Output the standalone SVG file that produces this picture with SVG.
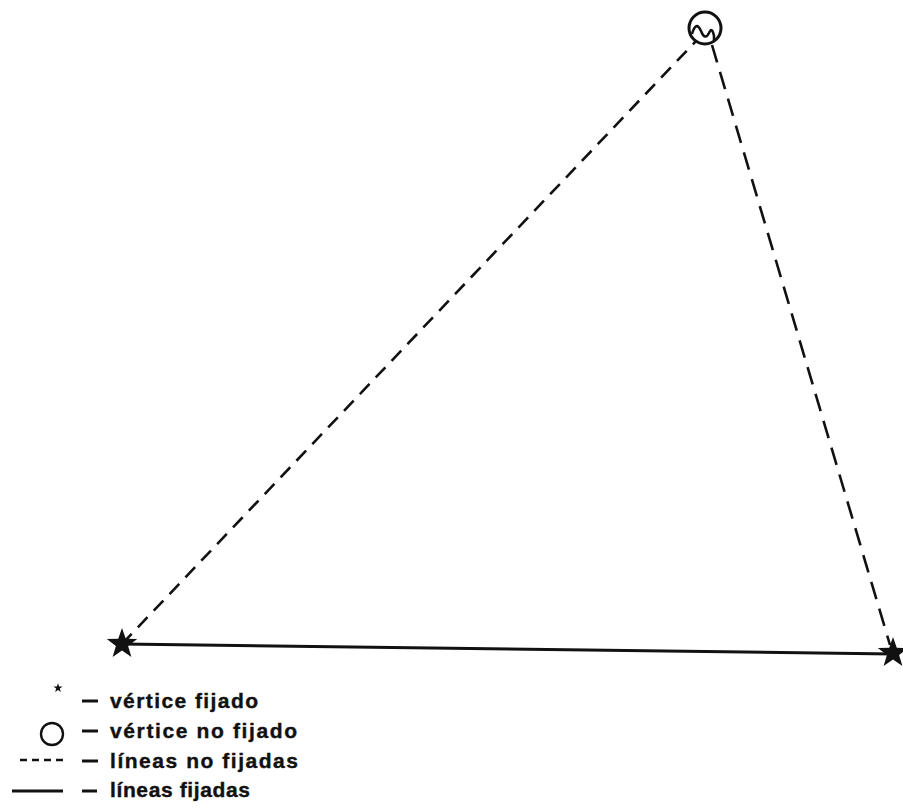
<svg xmlns="http://www.w3.org/2000/svg" width="903" height="812" viewBox="0 0 903 812">
<style>
.dash1{stroke:#111;stroke-width:2.6;stroke-dasharray:14 9;fill:none}
.dash2{stroke:#111;stroke-width:2.6;stroke-dasharray:18 10;fill:none}
.solid{stroke:#111;stroke-width:3;fill:none}
.lbl{font-family:"Liberation Sans",Arial,sans-serif;font-weight:bold;font-size:21px;fill:#111;stroke:#111;stroke-width:0.4}
.star{fill:#111}
.ring{fill:none;stroke:#111;stroke-width:3}
</style>
<defs>
<polygon id="st" points="0,-16 3.76,-5.18 15.22,-4.94 6.09,1.98 9.4,12.94 0,6.4 -9.4,12.94 -6.09,1.98 -15.22,-4.94 -3.76,-5.18"/>
</defs>
<rect width="903" height="812" fill="#fff"/>
<g id="connectors">
<line class="dash1" x1="122" y1="644" x2="696" y2="41"/>
<line class="dash2" x1="712" y1="45" x2="890" y2="645"/>
<line class="solid" x1="122" y1="644" x2="893" y2="654"/>
</g>
<g id="node-top">
<circle class="ring" cx="705" cy="28" r="16"/>
<path d="M692,34 Q696,20 701,31 Q705,41 709,33 Q712,26 714,36 L714,40" fill="none" stroke="#111" stroke-width="2.6"/>
</g>
<g id="node-left">
<use href="#st" class="star" x="122" y="644"/>
</g>
<g id="node-right">
<use href="#st" class="star" x="893" y="653"/>
</g>
<g id="legend">
<use href="#st" class="star" transform="translate(58,688) scale(0.3)"/>
<line class="solid" x1="82" y1="701" x2="98" y2="701"/>
<text class="lbl" x="110" y="708" textLength="148" lengthAdjust="spacing">vértice fijado</text>
<circle cx="52" cy="734" r="11" fill="none" stroke="#111" stroke-width="2.4"/>
<line class="solid" x1="82" y1="731" x2="98" y2="731"/>
<text class="lbl" x="110" y="738" textLength="187" lengthAdjust="spacing">vértice no fijado</text>
<line x1="20" y1="760" x2="64" y2="760" stroke="#111" stroke-width="2.6" stroke-dasharray="7 5"/>
<line class="solid" x1="82" y1="761" x2="98" y2="761"/>
<text class="lbl" x="110" y="768" textLength="188" lengthAdjust="spacing">líneas no fijadas</text>
<line class="solid" x1="12" y1="791" x2="63" y2="791"/>
<line class="solid" x1="82" y1="791" x2="97" y2="791"/>
<text class="lbl" x="110" y="797" textLength="140" lengthAdjust="spacing">líneas fijadas</text>
</g>
</svg>
